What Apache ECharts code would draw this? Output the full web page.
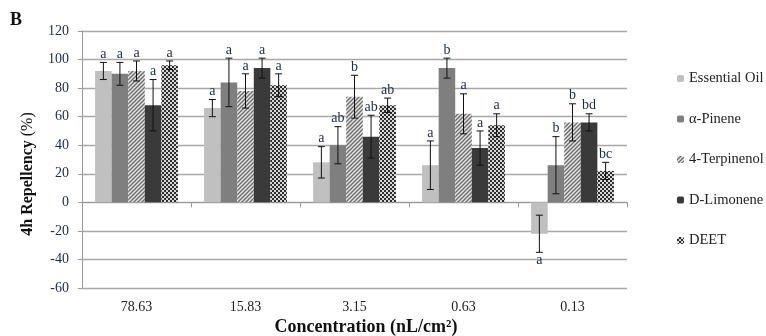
<!DOCTYPE html>
<html>
<head>
<meta charset="utf-8">
<script src="https://cdn.jsdelivr.net/npm/echarts@6/dist/echarts.min.js"></script>
<style>
  html, body { margin: 0; padding: 0; background: #fff; }
  #chart { width: 766px; height: 336px; }
</style>
</head>
<body>
<div id="chart"></div>
<script>
// data
const categories = ['78.63', '15.83', '3.15', '0.63', '0.13']
const seriesNames = ['Essential Oil', 'α-Pinene', '4-Terpinenol', 'D-Limonene', 'DEET']
const essentialOil = [92, 66, 28, 26, -22]
const alphaPinene = [90, 84, 40, 94, 26]
const terpinenol = [92, 78, 74, 62, 56]
const limonene = [68, 94, 46, 38, 56]
const deet = [96, 82, 68, 54, 22]
const errEssentialOil = [6, 6, 11, 17, 13]
const errAlphaPinene = [8, 17, 13, 7, 20]
const errTerpinenol = [7, 12, 15, 14, 13]
const errLimonene = [18, 7, 15, 12, 6]
const errDeet = [3, 8, 5, 8, 6]
const lettersEssentialOil = ['a', 'a', 'a', 'a', 'a']
const lettersAlphaPinene = ['a', 'a', 'ab', 'b', 'b']
const lettersTerpinenol = ['a', 'a', 'b', 'a', 'b']
const lettersLimonene = ['a', 'a', 'ab', 'a', 'bd']
const lettersDeet = ['a', 'a', 'ab', 'a', 'bc']
const yTicks = { min: -60, max: 120, interval: 20 }

const values = [essentialOil, alphaPinene, terpinenol, limonene, deet]
const errors = [errEssentialOil, errAlphaPinene, errTerpinenol, errLimonene, errDeet]
const letters = [lettersEssentialOil, lettersAlphaPinene, lettersTerpinenol, lettersLimonene, lettersDeet]

const serif = 'Liberation Serif'
const catGap = 0.24

// hatched pattern for 4-Terpinenol
function hatch() {
  const c = document.createElement('canvas')
  c.width = 4
  c.height = 4
  const g = c.getContext('2d')
  g.fillStyle = '#e4e4e4'
  g.fillRect(0, 0, 4, 4)
  g.strokeStyle = '#6a6a6a'
  g.lineWidth = 1.3
  g.beginPath()
  g.moveTo(0, 4); g.lineTo(4, 0)
  g.moveTo(-1, 1); g.lineTo(1, -1)
  g.moveTo(3, 5); g.lineTo(5, 3)
  g.stroke()
  return c
}

// checker pattern for DEET
function checker() {
  const c = document.createElement('canvas')
  c.width = 4
  c.height = 4
  const g = c.getContext('2d')
  g.fillStyle = '#2e2e2e'
  g.fillRect(0, 0, 4, 4)
  g.fillStyle = '#d8d8d8'
  g.fillRect(0, 0, 2, 2)
  g.fillRect(2, 2, 2, 2)
  return c
}

const colors = [
  '#c0c0c0',
  '#7f7f7f',
  { image: hatch(), repeat: 'repeat' },
  '#3a3a3a',
  { image: checker(), repeat: 'repeat' }
]

const series = []
values.forEach((vals, i) => {
  series.push({
    name: seriesNames[i],
    type: 'bar',
    data: vals,
    barGap: '0%',
    barCategoryGap: (catGap * 100) + '%',
    itemStyle: { color: colors[i] }
  })
})

values.forEach((vals, i) => {
  series.push({
    type: 'custom',
    z: 5,
    silent: true,
    data: vals.map((v, j) => [j, v, errors[i][j]]),
    renderItem: function(params, api) {
      const idx = api.value(0)
      const v = api.value(1)
      const e = api.value(2)
      const letter = letters[i][idx]
      const band = api.size([1, 0])[0]
      const bw = band * (1 - catGap) / 5
      const cx = api.coord([idx, v])[0] + (i - 2) * bw
      const top = api.coord([idx, v + e])[1]
      const bot = api.coord([idx, v - e])[1]
      const ls = { stroke: '#111', lineWidth: 1 }
      return {
        type: 'group',
        children: [
          { type: 'line', shape: { x1: cx, y1: top, x2: cx, y2: bot }, style: ls },
          { type: 'line', shape: { x1: cx - 3.5, y1: top, x2: cx + 3.5, y2: top }, style: ls },
          { type: 'line', shape: { x1: cx - 3.5, y1: bot, x2: cx + 3.5, y2: bot }, style: ls },
          {
            type: 'text',
            style: {
              text: letter,
              x: cx,
              y: v >= 0 ? top - 1 : bot + 1,
              align: 'center',
              verticalAlign: v >= 0 ? 'bottom' : 'top',
              font: '14px "' + serif + '"',
              fill: '#1e2a45'
            }
          }
        ]
      }
    }
  })
})

const chart = echarts.init(document.getElementById('chart'))
chart.setOption({
  animation: false,
  backgroundColor: '#fff',
  grid: { left: 82, right: 139, top: 31, bottom: 48 },
  legend: {
    orient: 'vertical',
    left: 672,
    top: 66,
    itemWidth: 7,
    itemHeight: 7,
    itemGap: 25.5,
    data: seriesNames,
    textStyle: { fontFamily: serif, fontSize: 14.5, color: '#222' }
  },
  xAxis: [{
    type: 'category',
    data: categories,
    axisLine: { onZero: true, lineStyle: { color: '#9a9a9a', width: 1 } },
    axisTick: { show: true, length: 5, lineStyle: { color: '#9a9a9a' } },
    axisLabel: { show: false }
  }, {
    type: 'category',
    data: categories,
    position: 'bottom',
    axisLine: { show: false, onZero: false },
    axisTick: { show: false },
    axisLabel: { margin: 12, fontFamily: serif, fontSize: 14, color: '#222' }
  }],
  yAxis: {
    type: 'value',
    min: yTicks.min,
    max: yTicks.max,
    interval: yTicks.interval,
    axisLine: { show: true, lineStyle: { color: '#9a9a9a' } },
    axisTick: { show: true, length: 4, lineStyle: { color: '#9a9a9a' } },
    splitLine: { lineStyle: { color: '#a8a8a8', width: 1.3 } },
    axisLabel: { margin: 13, fontFamily: serif, fontSize: 14, color: '#1f2a4a' }
  },
  graphic: [
    {
      type: 'text', left: 10, top: 11,
      style: { text: 'B', font: 'bold 18px "' + serif + '"', fill: '#111' }
    },
    {
      type: 'text', x: 28, y: 174, rotation: Math.PI / 2,
      style: {
        text: '{b|4h Repellency}{n| (%)}',
        align: 'center', verticalAlign: 'middle',
        rich: {
          b: { font: 'bold 16px "' + serif + '"', fill: '#111' },
          n: { font: '16px "' + serif + '"', fill: '#111' }
        }
      }
    },
    {
      type: 'text', x: 366, y: 327,
      style: {
        text: 'Concentration (nL/cm²)',
        align: 'center', verticalAlign: 'middle',
        font: 'bold 18px "' + serif + '"', fill: '#111'
      }
    }
  ],
  series: series
})
</script>
</body>
</html>
